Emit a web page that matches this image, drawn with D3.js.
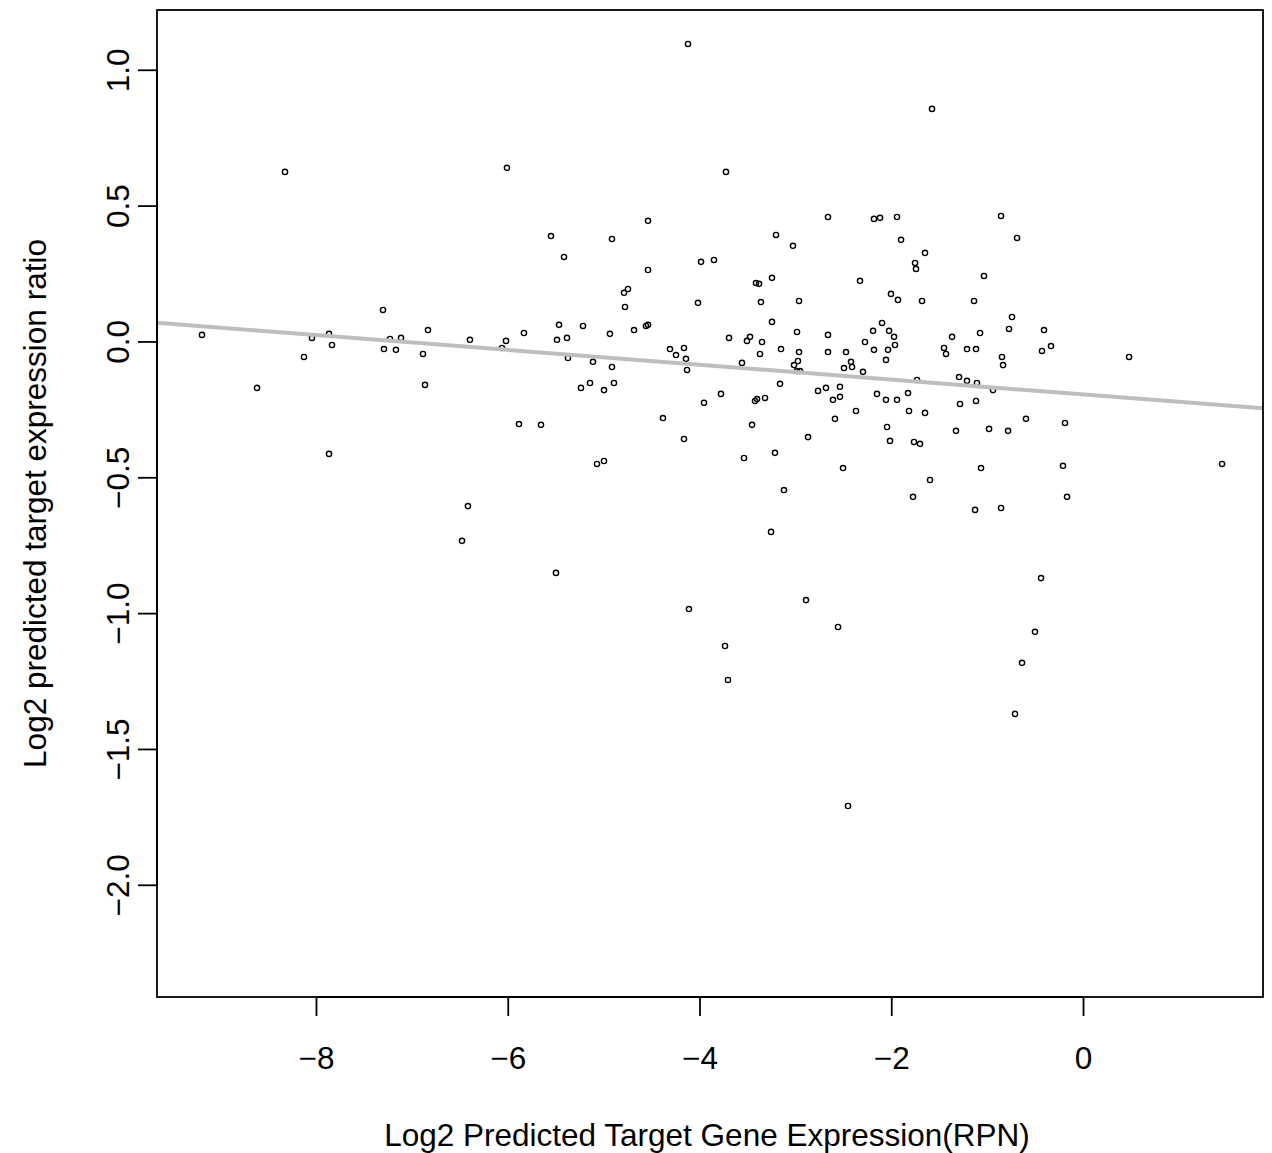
<!DOCTYPE html>
<html>
<head>
<meta charset="utf-8">
<script src="https://cdn.jsdelivr.net/npm/d3@7"></script>
<style>
  html, body { margin: 0; padding: 0; background: #fff; }
  svg { display: block; }
  text { font-family: "Liberation Sans", Arial, Helvetica, sans-serif; fill: #000; }
</style>
</head>
<body>
<svg id="chart" width="1272" height="1153"></svg>
<script>
// Log2 predicted target gene expression (RPN)
const xValues = [
  -8.323, -4.120, -6.008, -4.537, -5.549, -4.913, -5.413, -4.537, -3.984, -3.849,
  -4.746, -1.575, -3.724, -2.660, -2.180, -2.117, -1.940, -0.855, -3.202, -3.025,
  -1.898, -1.648, -1.752, -1.742, -1.033, -3.244, -2.326, -3.411, -3.379, -0.688,
  -7.301, -9.189, -8.042, -7.864, -7.833, -8.125, -7.228, -7.113, -7.291, -7.166,
  -6.832, -6.884, -8.615, -6.863, -7.864, -4.787, -4.777, -4.016, -6.394, -6.018,
  -6.060, -5.831, -5.465, -5.215, -5.486, -5.382, -4.934, -4.683, -4.558, -4.537,
  -5.372, -5.111, -4.913, -4.308, -4.162, -4.245, -4.141, -4.130, -5.236, -5.142,
  -4.996, -4.892, -3.776, -3.953, -4.381, -5.883, -5.653, -4.162, -5.069, -4.996,
  -6.415, -6.477, -3.359, -2.962, -2.003, -1.930, -1.679, -1.137, -3.244, -3.692,
  -3.505, -3.473, -3.348, -3.369, -2.983, -3.150, -2.962, -2.973, -3.014, -2.983,
  -2.952, -2.660, -2.660, -2.472, -2.420, -2.409, -2.493, -2.295, -2.190, -2.096,
  -2.023, -1.971, -1.961, -2.274, -2.180, -2.034, -2.055, -1.366, -1.450, -1.429,
  -1.210, -1.116, -1.074, -0.845, -0.834, -1.731, -1.293, -1.210, -1.106, -0.939,
  -3.557, -3.160, -3.421, -3.400, -3.317, -2.764, -2.681, -2.535, -2.535, -2.608,
  -2.368, -2.587, -2.149, -2.055, -1.940, -1.825, -1.815, -1.648, -1.283, -1.116,
  -3.452, -2.868, -2.044, -2.013, -1.763, -1.700, -1.325, -0.980, -3.536, -3.213,
  -2.503, -1.596, -1.773, -1.064, -3.119, -1.126, -0.855, -3.254, -0.741, -0.772,
  -0.407, -0.334, -0.428, 0.480, -0.595, -0.782, -0.188, -0.209, -0.167, 1.450,
  -5.497, -4.110, -2.889, -2.555, -3.734, -3.703, -2.451, -0.438, -0.501, -0.636,
  -0.709
];
// Log2 predicted target expression ratio
const yValues = [
  0.624, 1.095, 0.639, 0.444, 0.388, 0.377, 0.311, 0.263, 0.293, 0.300,
  0.193, 0.856, 0.624, 0.458, 0.451, 0.455, 0.458, 0.462, 0.392, 0.352,
  0.374, 0.326, 0.289, 0.267, 0.241, 0.234, 0.223, 0.215, 0.212, 0.381,
  0.116, 0.024, 0.013, 0.028, -0.013, -0.057, 0.009, 0.013, -0.028, -0.031,
  0.042, -0.046, -0.171, -0.160, -0.414, 0.179, 0.127, 0.142, 0.006, 0.002,
  -0.024, 0.031, 0.061, 0.057, 0.006, 0.013, 0.028, 0.042, 0.057, 0.061,
  -0.061, -0.075, -0.094, -0.028, -0.024, -0.050, -0.064, -0.105, -0.171, -0.153,
  -0.179, -0.153, -0.193, -0.226, -0.282, -0.304, -0.307, -0.359, -0.451, -0.440,
  -0.606, -0.734, 0.145, 0.149, 0.175, 0.153, 0.149, 0.149, 0.072, 0.013,
  0.002, 0.017, -0.002, -0.046, 0.035, -0.028, -0.039, -0.072, -0.087, -0.109,
  -0.109, 0.024, -0.039, -0.039, -0.075, -0.094, -0.098, -0.112, 0.039, 0.068,
  0.039, 0.017, -0.013, -0.002, -0.031, -0.031, -0.068, 0.017, -0.024, -0.046,
  -0.028, -0.028, 0.031, -0.057, -0.087, -0.142, -0.131, -0.145, -0.153, -0.179,
  -0.079, -0.156, -0.219, -0.212, -0.208, -0.182, -0.171, -0.167, -0.204, -0.215,
  -0.256, -0.285, -0.193, -0.215, -0.215, -0.190, -0.256, -0.263, -0.230, -0.219,
  -0.307, -0.352, -0.315, -0.366, -0.370, -0.377, -0.329, -0.322, -0.429, -0.410,
  -0.466, -0.510, -0.572, -0.466, -0.547, -0.620, -0.613, -0.701, 0.090, 0.046,
  0.042, -0.017, -0.035, -0.057, -0.285, -0.329, -0.300, -0.458, -0.572, -0.451,
  -0.852, -0.985, -0.952, -1.051, -1.121, -1.246, -1.710, -0.871, -1.069, -1.183,
  -1.371
];
// Fitted regression line (intercept, slope)
const fitCoef = [-0.195, -0.0273];
const xTicks = [-8, -6, -4, -2, 0];
const yTicks = [1.0, 0.5, 0.0, -0.5, -1.0, -1.5, -2.0];
const xTitle = "Log2 Predicted Target Gene Expression(RPN)";
const yTitle = "Log2 predicted target expression ratio";

const W = 1272, H = 1153;
const plot = { left: 157, right: 1263, top: 10, bottom: 997 };
const svg = d3.select("#chart");

const x = d3.scaleLinear().domain([-9.658, 1.877]).range([plot.left, plot.right]);
const y = d3.scaleLinear().domain([-2.413, 1.220]).range([plot.bottom, plot.top]);

const fontSize = 31.5;
const fmtX = d3.format("d");
const fmtY = d3.format(".1f");

// points
svg.append("g")
  .selectAll("circle")
  .data(d3.zip(xValues, yValues))
  .join("circle")
  .attr("cx", d => x(d[0]))
  .attr("cy", d => y(d[1]))
  .attr("r", 2.6)
  .attr("fill", "none")
  .attr("stroke", "#000")
  .attr("stroke-width", 1.4);

// regression line (clipped to plot area like abline)
svg.append("defs").append("clipPath").attr("id", "clip")
  .append("rect")
  .attr("x", plot.left).attr("y", plot.top)
  .attr("width", plot.right - plot.left).attr("height", plot.bottom - plot.top);

const xd = x.domain();
svg.append("line")
  .attr("clip-path", "url(#clip)")
  .attr("x1", x(xd[0])).attr("y1", y(fitCoef[0] + fitCoef[1] * xd[0]))
  .attr("x2", x(xd[1])).attr("y2", y(fitCoef[0] + fitCoef[1] * xd[1]))
  .attr("stroke", "#bebebe")
  .attr("stroke-width", 4);

// box
svg.append("rect")
  .attr("x", plot.left).attr("y", plot.top)
  .attr("width", plot.right - plot.left).attr("height", plot.bottom - plot.top)
  .attr("fill", "none").attr("stroke", "#000").attr("stroke-width", 1.8);

// axes
const xAxis = svg.append("g")
  .attr("transform", `translate(0,${plot.bottom})`)
  .call(d3.axisBottom(x).tickValues(xTicks).tickFormat(fmtX).tickSize(19).tickSizeOuter(0).tickPadding(14));
const yAxis = svg.append("g")
  .attr("transform", `translate(${plot.left},0)`)
  .call(d3.axisLeft(y).tickValues(yTicks).tickFormat(fmtY).tickSize(19).tickSizeOuter(0));

[xAxis, yAxis].forEach(g => {
  g.select(".domain").remove();
  g.selectAll(".tick line").attr("stroke", "#000").attr("stroke-width", 1.8);
  g.selectAll("text").attr("font-size", fontSize)
    .attr("font-family", "Liberation Sans, Arial, sans-serif").attr("fill", "#000");
});
// R-style axis lines spanning first to last tick
svg.append("line")
  .attr("x1", x(d3.min(xTicks))).attr("x2", x(d3.max(xTicks)))
  .attr("y1", plot.bottom).attr("y2", plot.bottom)
  .attr("stroke", "#000").attr("stroke-width", 1.8);
svg.append("line")
  .attr("y1", y(d3.min(yTicks))).attr("y2", y(d3.max(yTicks)))
  .attr("x1", plot.left).attr("x2", plot.left)
  .attr("stroke", "#000").attr("stroke-width", 1.8);

// x tick labels: position precisely
xAxis.selectAll(".tick text").attr("dy", null).attr("y", 72);

// y tick labels rotated (parallel to axis)
yAxis.selectAll(".tick text")
  .attr("x", null).attr("dy", null)
  .attr("text-anchor", "middle")
  .attr("transform", "translate(-28,0) rotate(-90)")
  .attr("y", 0);

// axis titles
svg.append("text")
  .attr("x", (plot.left + plot.right) / 2 - 3)
  .attr("y", 1146)
  .attr("text-anchor", "middle")
  .attr("font-size", fontSize)
  .text(xTitle);

svg.append("text")
  .attr("transform", `translate(46,${(plot.top + plot.bottom) / 2}) rotate(-90)`)
  .attr("text-anchor", "middle")
  .attr("font-size", fontSize)
  .text(yTitle);
</script>
</body>
</html>
